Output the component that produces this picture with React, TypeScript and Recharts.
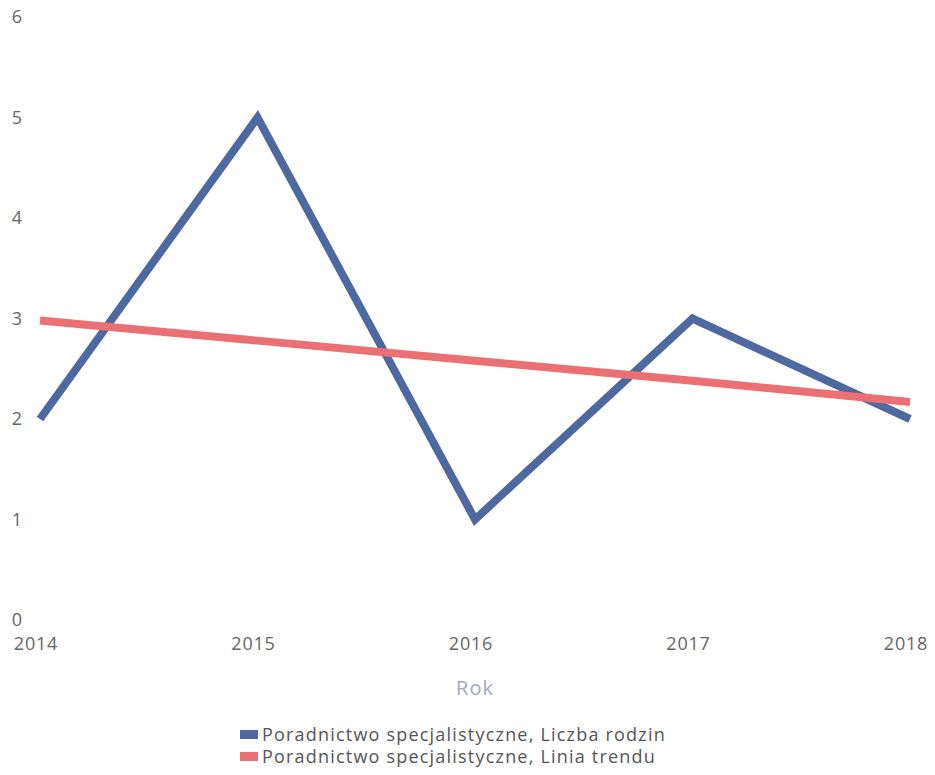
import { Legend, Line, LineChart, XAxis, YAxis } from "recharts";

const YEARS = ["2014", "2015", "2016", "2017", "2018"];
const FAMILIES = [2, 5, 1, 3, 2];
const TREND = [2.98, 2.78, 2.58, 2.38, 2.17];
const Y_TICKS = [0, 1, 2, 3, 4, 5, 6];

const BLUE = "#4d69a0";
const RED = "#eb7074";
const FONT = "'Open Sans', sans-serif";

const data = YEARS.map((year, i) => ({
  year,
  families: FAMILIES[i],
  trend: TREND[i],
}));

function LegendBox({ payload }: any) {
  return (
    <div style={{ paddingLeft: 240, fontFamily: FONT, fontSize: 18, letterSpacing: 1.2, color: "#555" }}>
      {(payload || []).map((p: any) => (
        <div key={p.value} style={{ display: "flex", alignItems: "center", height: 22, whiteSpace: "nowrap" }}>
          <span
            style={{ width: 18, height: 9, background: p.color, display: "inline-block", marginRight: 4 }}
          />
          {p.value}
        </div>
      ))}
    </div>
  );
}

export default function App() {
  return (
    <div style={{ margin: -8, width: 935, height: 775, background: "#fff" }}>
      <LineChart width={935} height={775} data={data} margin={{ top: 17, right: 25, bottom: 0, left: 0 }}>
        <XAxis
          dataKey="year"
          axisLine={false}
          tickLine={false}
          tickMargin={11}
          height={111}
          dx={-4}
          tick={{ fill: "#666", fontSize: 18, fontFamily: FONT, letterSpacing: 0.8 }}
          label={{
            value: "Rok",
            position: "insideBottom",
            offset: 36,
            fill: "#a3a9bb",
            fontSize: 20,
            fontFamily: FONT,
            letterSpacing: 1,
          }}
        />
        <YAxis
          domain={[0, 6]}
          ticks={Y_TICKS}
          axisLine={false}
          tickLine={false}
          width={40}
          tickMargin={12}
          tick={{ fill: "#666", fontSize: 18, fontFamily: FONT }}
        />
        <Legend
          verticalAlign="bottom"
          content={<LegendBox />}
          wrapperStyle={{ left: 0, width: 935, bottom: 8 }}
        />
        <Line
          dataKey="families"
          name="Poradnictwo specjalistyczne, Liczba rodzin"
          stroke={BLUE}
          strokeWidth={8}
          dot={false}
          activeDot={false}
          isAnimationActive={false}
        />
        <Line
          dataKey="trend"
          name="Poradnictwo specjalistyczne, Linia trendu"
          stroke={RED}
          strokeWidth={8}
          dot={false}
          activeDot={false}
          isAnimationActive={false}
        />
      </LineChart>
    </div>
  );
}
